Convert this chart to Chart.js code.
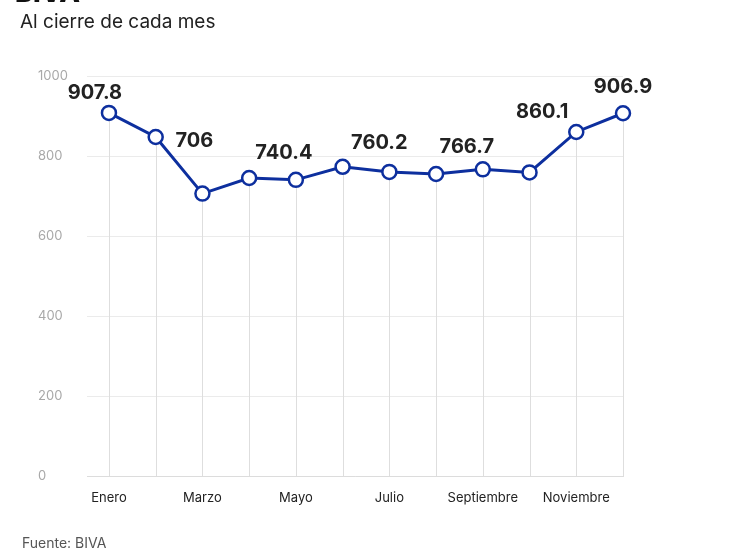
<!DOCTYPE html>
<html>
<head>
<meta charset="utf-8">
<script src="https://cdn.jsdelivr.net/npm/chart.js@4"></script>
<style>
  html, body { margin: 0; padding: 0; background: #fff; width: 732px; height: 549px; overflow: hidden; }
  #wrap { position: absolute; left: 0; top: 0; width: 732px; height: 549px; }
  .txt { position: absolute; white-space: nowrap; font-family: Inter, "Open Sans", sans-serif; }
  #title { left: 15px; top: -24px; font-size: 27px; font-weight: 800; color: #111; }
  #subtitle { left: 20px; top: 10px; font-size: 19px; color: #222; }
  #source { left: 22px; top: 534px; font-size: 14px; color: #555; }
</style>
</head>
<body>
<div id="wrap"><canvas id="c" width="732" height="549"></canvas></div>
<div class="txt" id="title">BIVA</div>
<div class="txt" id="subtitle">Al cierre de cada mes</div>
<div class="txt" id="source">Fuente: BIVA</div>
<script>
const months = ["Enero","Febrero","Marzo","Abril","Mayo","Junio","Julio","Agosto","Septiembre","Octubre","Noviembre","Diciembre"];
const values = [907.8, 847.5, 706, 745, 740.4, 773, 760.2, 755, 766.7, 759, 860.1, 906.9];
const yTicks = [0, 200, 400, 600, 800, 1000];
const labeledIdx = [0, 2, 4, 6, 8, 10, 11];

// label placement offsets relative to point (style, not data)
const labelOffsets = {0:[-14,-20], 2:[-8,-53], 4:[-12,-27], 6:[-10,-29], 8:[-16,-22], 10:[-34,-20], 11:[0,-26]};

const blue = '#0d2f9e';

const dropLines = {
  id: 'dropLines',
  beforeDatasetsDraw(chart) {
    const ctx = chart.ctx;
    const meta = chart.getDatasetMeta(0);
    const bottom = chart.chartArea.bottom;
    ctx.save();
    ctx.strokeStyle = '#dedede';
    ctx.lineWidth = 1;
    meta.data.forEach(p => {
      const x = Math.round(p.x) + 0.5;
      ctx.beginPath();
      ctx.moveTo(x, p.y);
      ctx.lineTo(x, bottom);
      ctx.stroke();
    });
    ctx.restore();
  }
};

const valueLabels = {
  id: 'valueLabels',
  afterDatasetsDraw(chart) {
    const ctx = chart.ctx;
    const meta = chart.getDatasetMeta(0);
    ctx.save();
    ctx.font = '700 20px Inter, "Open Sans", sans-serif';
    ctx.fillStyle = '#222';
    ctx.textAlign = 'center';
    ctx.textBaseline = 'middle';
    labeledIdx.forEach(i => {
      const p = meta.data[i];
      const off = labelOffsets[i];
      ctx.fillText(String(values[i]), p.x + off[0], p.y + off[1]);
    });
    ctx.restore();
  }
};

new Chart(document.getElementById('c'), {
  type: 'line',
  data: {
    datasets: [{
      data: values.map((v, i) => ({x: i, y: v})),
      borderColor: blue,
      borderWidth: 3,
      pointRadius: 7,
      pointHoverRadius: 7,
      pointBackgroundColor: '#fff',
      pointBorderColor: blue,
      pointBorderWidth: 2.5,
      tension: 0,
      clip: false
    }]
  },
  options: {
    responsive: false,
    animation: false,
    events: [],
    layout: { padding: { left: 38, right: 109, top: 76, bottom: 43 } },
    plugins: { legend: { display: false }, tooltip: { enabled: false }, title: { display: false } },
    scales: {
      x: {
        type: 'linear',
        min: -0.47,
        max: 11,
        afterBuildTicks(scale) { scale.ticks = [0, 2, 4, 6, 8, 10].map(v => ({value: v})); },
        afterFit(scale) { scale.height = 30; },
        grid: { display: false, drawTicks: false },
        border: { display: true, color: '#dcdcdc', width: 1 },
        ticks: {
          padding: 14,
          color: '#222',
          font: { family: 'Inter, "Open Sans", sans-serif', size: 13 },
          maxRotation: 0,
          autoSkip: false,
          callback: (v) => months[v]
        }
      },
      y: {
        min: 0,
        max: 1000,
        afterBuildTicks(scale) { scale.ticks = yTicks.map(v => ({value: v})); },
        afterFit(scale) { scale.width = 49; },
        grid: { color: '#ebebeb', drawTicks: false },
        border: { display: false },
        ticks: {
          crossAlign: 'far',
          padding: 0,
          color: '#a8a8a8',
          font: { family: 'Inter, "Open Sans", sans-serif', size: 13 },
          callback: (v) => String(v)
        }
      }
    }
  },
  plugins: [dropLines, valueLabels]
});
</script>
</body>
</html>
